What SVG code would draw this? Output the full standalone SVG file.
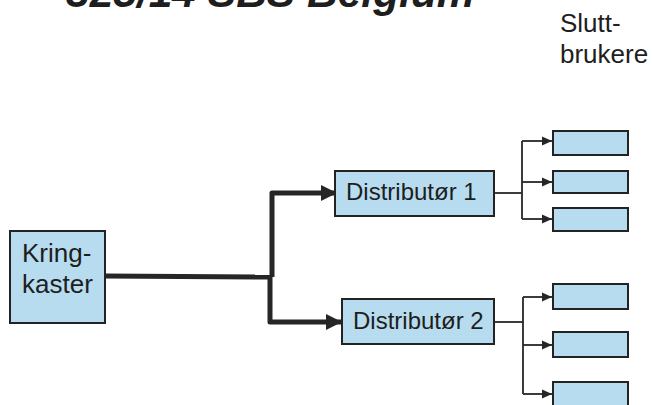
<svg xmlns="http://www.w3.org/2000/svg" width="653" height="405" viewBox="0 0 653 405">
<defs>
<style>
.box{fill:#b7dcef;stroke:#232323;stroke-width:2}
.lbl{font-family:"Liberation Sans",Arial,sans-serif;fill:#1e1e1e}
.thick{fill:none;stroke:#262626;stroke-width:5;stroke-linejoin:round}
.thin{fill:none;stroke:#262626;stroke-width:1.8}
</style>
<marker id="big" markerUnits="userSpaceOnUse" viewBox="0 0 16 16" markerWidth="16" markerHeight="16" refX="16" refY="8" orient="auto">
<path d="M0,0 L16,8 L0,16 Z" fill="#262626"/>
</marker>
<marker id="small" markerUnits="userSpaceOnUse" viewBox="0 0 10 10" markerWidth="10" markerHeight="10" refX="10" refY="5" orient="auto">
<path d="M0,0.5 L10,5 L0,9.5 Z" fill="#262626"/>
</marker>
</defs>
<rect width="653" height="405" fill="#ffffff"/>
<text class="lbl" x="66" y="7" font-size="42.5" font-weight="bold" font-style="italic">325/14 SBS Belgium</text>
<text class="lbl" x="560" y="32" font-size="26">Slutt-</text>
<text class="lbl" x="560" y="63" font-size="26">brukere</text>
<g id="connectors">
<path class="thick" d="M105,276 L272,277"/>
<path class="thick" d="M272,277 L272,193 L337,193" marker-end="url(#big)"/>
<path class="thick" d="M270,277 L270,322 L342,322" marker-end="url(#big)"/>
<path class="thin" d="M494,193 L522,193"/>
<path class="thin" d="M522,141 L522,219"/>
<path class="thin" d="M522,141 L552,141" marker-end="url(#small)"/>
<path class="thin" d="M522,182 L552,182" marker-end="url(#small)"/>
<path class="thin" d="M522,219 L552,219" marker-end="url(#small)"/>
<path class="thin" d="M494,322 L523,322"/>
<path class="thin" d="M523,297 L523,394"/>
<path class="thin" d="M523,297 L552,297" marker-end="url(#small)"/>
<path class="thin" d="M523,345 L552,345" marker-end="url(#small)"/>
<path class="thin" d="M523,394 L552,394" marker-end="url(#small)"/>
</g>
<g id="kringkaster">
<rect class="box" x="10" y="231" width="95" height="92"/>
<text class="lbl" x="22" y="262" font-size="26">Kring-</text>
<text class="lbl" x="22" y="293" font-size="26">kaster</text>
</g>
<g id="distributor1">
<rect class="box" x="335" y="171" width="159" height="45"/>
<text class="lbl" x="346" y="200" font-size="24">Distributør 1</text>
</g>
<g id="distributor2">
<rect class="box" x="342" y="299" width="152" height="45"/>
<text class="lbl" x="353" y="329" font-size="24">Distributør 2</text>
</g>
<g id="user1"><rect class="box" x="553" y="131" width="75" height="24"/></g>
<g id="user2"><rect class="box" x="553" y="171" width="75" height="22"/></g>
<g id="user3"><rect class="box" x="553" y="208" width="75" height="23"/></g>
<g id="user4"><rect class="box" x="553" y="284" width="75" height="25"/></g>
<g id="user5"><rect class="box" x="553" y="332" width="75" height="25"/></g>
<g id="user6"><rect class="box" x="553" y="382" width="75" height="30"/></g>
</svg>
